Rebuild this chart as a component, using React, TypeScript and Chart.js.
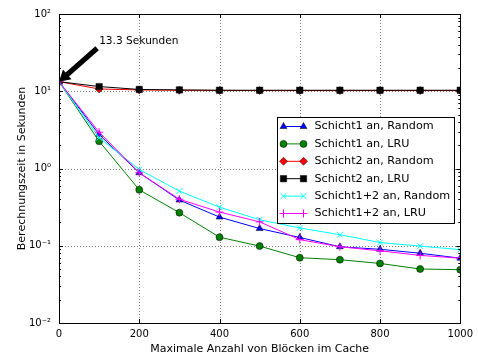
import React, { useEffect, useRef } from 'react';
import { Chart, registerables } from 'chart.js';
import { drawPoint } from 'chart.js/helpers';

Chart.register(...registerables);

// ---- data ----
const blockCounts = [0, 100, 200, 300, 400, 500, 600, 700, 800, 900, 1000];
const schicht1Random = [13.3, 2.75, 0.88, 0.39, 0.235, 0.167, 0.128, 0.097, 0.09, 0.08, 0.069];
const schicht1LRU = [13.3, 2.25, 0.53, 0.268, 0.129, 0.099, 0.07, 0.066, 0.059, 0.05, 0.049];
const schicht2Random = [13.3, 10.7, 10.4, 10.3, 10.25, 10.2, 10.2, 10.2, 10.2, 10.2, 10.2];
const schicht2LRU = [13.3, 11.5, 10.55, 10.4, 10.3, 10.3, 10.3, 10.3, 10.3, 10.3, 10.3];
const schicht12Random = [13.3, 2.5, 0.97, 0.51, 0.316, 0.217, 0.17, 0.139, 0.11, 0.099, 0.089];
const schicht12LRU = [13.3, 2.95, 0.88, 0.4, 0.273, 0.204, 0.12, 0.097, 0.086, 0.075, 0.069];

const seriesLabels = [
  'Schicht1 an, Random',
  'Schicht1 an, LRU',
  'Schicht2 an, Random',
  'Schicht2 an, LRU',
  'Schicht1+2 an, Random',
  'Schicht1+2 an, LRU',
];
const seriesValues = [schicht1Random, schicht1LRU, schicht2Random, schicht2LRU, schicht12Random, schicht12LRU];

const yTickValues = [0.01, 0.1, 1, 10, 100];
const yTickLabels = ['10⁻²', '10⁻¹', '10⁰', '10¹', '10²'];
const xTickStep = 200;
const xMin = 0;
const xMax = 1000;

const xTitle = 'Maximale Anzahl von Blöcken im Cache';
const yTitle = 'Berechnungszeit in Sekunden';

const annotationText = '13.3 Sekunden';
const annotationTarget = [0, 13.3];
const annotationTail = [95, 36];
const annotationTextPos = [100, 45];

// ---- styles ----
const seriesColors = ['#0000ff', '#008000', '#ff0000', '#000000', '#00ffff', '#ff00ff'];
const seriesMarkers = ['triangle', 'circle', 'rectRot', 'rect', 'crossRot', 'cross'];
const seriesRadius = [4, 3.5, 4, 4.5, 4, 4];
const FONT = "'DejaVu Sans', sans-serif";

function isCross(style: string) {
  return style === 'cross' || style === 'crossRot';
}

const framePlugin = {
  id: 'frameGrid',
  beforeDatasetsDraw(chart: any) {
    const { ctx, chartArea: a, scales } = chart;
    const xs = scales.x;
    const ys = scales.y;
    ctx.save();
    ctx.strokeStyle = 'rgba(0,0,0,0.5)';
    ctx.lineWidth = 1;
    ctx.setLineDash([1, 2]);
    for (let v = xMin + xTickStep; v < xMax; v += xTickStep) {
      const px = Math.round(xs.getPixelForValue(v)) + 0.5;
      ctx.beginPath();
      ctx.moveTo(px, a.top);
      ctx.lineTo(px, a.bottom);
      ctx.stroke();
    }
    yTickValues.slice(1, -1).forEach((v) => {
      const py = Math.round(ys.getPixelForValue(v)) + 0.5;
      ctx.beginPath();
      ctx.moveTo(a.left, py);
      ctx.lineTo(a.right, py);
      ctx.stroke();
    });
    ctx.restore();
  },
  afterDatasetsDraw(chart: any) {
    const { ctx, chartArea: a, scales } = chart;
    const xs = scales.x;
    const ys = scales.y;
    ctx.save();
    ctx.strokeStyle = '#000';
    ctx.lineWidth = 1;
    ctx.setLineDash([]);
    for (let v = xMin; v <= xMax; v += xTickStep) {
      const px = Math.round(xs.getPixelForValue(v)) + 0.5;
      ctx.beginPath();
      ctx.moveTo(px, a.bottom);
      ctx.lineTo(px, a.bottom - 4);
      ctx.moveTo(px, a.top);
      ctx.lineTo(px, a.top + 4);
      ctx.stroke();
    }
    for (let e = -2; e <= 2; e++) {
      for (let k = 1; k <= 9; k++) {
        const v = k * Math.pow(10, e);
        if (v > 100.0001) continue;
        const len = k === 1 ? 4 : 2;
        const py = Math.round(ys.getPixelForValue(v)) + 0.5;
        ctx.beginPath();
        ctx.moveTo(a.left, py);
        ctx.lineTo(a.left + len, py);
        ctx.moveTo(a.right, py);
        ctx.lineTo(a.right - len, py);
        ctx.stroke();
      }
    }
    ctx.strokeRect(Math.round(a.left) + 0.5, Math.round(a.top) + 0.5, Math.round(a.right - a.left), Math.round(a.bottom - a.top));
    ctx.restore();
  },
};

const annotationPlugin = {
  id: 'arrowNote',
  afterDraw(chart: any) {
    const { ctx, scales } = chart;
    const xs = scales.x;
    const ys = scales.y;
    const tx = xs.getPixelForValue(annotationTarget[0]);
    const ty = ys.getPixelForValue(annotationTarget[1]);
    const sx = xs.getPixelForValue(annotationTail[0]);
    const sy = ys.getPixelForValue(annotationTail[1]);
    const ang = Math.atan2(ty - sy, tx - sx);
    const len = Math.hypot(tx - sx, ty - sy);
    const shaftW = 2.6;
    const headW = 6.5;
    const headL = 11;
    ctx.save();
    ctx.translate(sx, sy);
    ctx.rotate(ang);
    ctx.fillStyle = '#000';
    ctx.beginPath();
    ctx.moveTo(0, -shaftW);
    ctx.lineTo(len - headL, -shaftW);
    ctx.lineTo(len - headL, -headW);
    ctx.lineTo(len, 0);
    ctx.lineTo(len - headL, headW);
    ctx.lineTo(len - headL, shaftW);
    ctx.lineTo(0, shaftW);
    ctx.closePath();
    ctx.fill();
    ctx.restore();

    ctx.save();
    ctx.fillStyle = '#000';
    ctx.font = `10.6px ${FONT}`;
    ctx.textAlign = 'left';
    ctx.textBaseline = 'middle';
    ctx.fillText(annotationText, xs.getPixelForValue(annotationTextPos[0]), ys.getPixelForValue(annotationTextPos[1]));
    ctx.restore();
  },
};

const legendPlugin = {
  id: 'boxLegend',
  afterDraw(chart: any) {
    const { ctx, chartArea: a } = chart;
    const w = 177;
    const h = 106;
    const bx = Math.round(a.right - 183) + 0.5;
    const by = Math.round(a.top + 103) + 0.5;
    ctx.save();
    ctx.fillStyle = '#fff';
    ctx.fillRect(bx, by, w, h);
    ctx.strokeStyle = '#000';
    ctx.lineWidth = 1;
    ctx.setLineDash([]);
    ctx.strokeRect(bx, by, w, h);
    const rowH = 17.4;
    chart.data.datasets.forEach((ds: any, i: number) => {
      const cy = by + 9 + i * rowH;
      const x1 = bx + 6;
      const x2 = bx + 26;
      const color = seriesColors[i];
      ctx.strokeStyle = color;
      ctx.lineWidth = 1;
      ctx.beginPath();
      ctx.moveTo(x1, cy);
      ctx.lineTo(x2, cy);
      ctx.stroke();
      const style = seriesMarkers[i];
      [x1, x2].forEach((px) => {
        ctx.fillStyle = color;
        ctx.strokeStyle = isCross(style) ? color : '#000';
        ctx.lineWidth = isCross(style) ? 1 : 0.5;
        drawPoint(ctx, { pointStyle: style, radius: seriesRadius[i], rotation: 0, borderWidth: isCross(style) ? 1 : 0.5 } as any, px, cy);
      });
      ctx.fillStyle = '#000';
      ctx.font = `11.2px ${FONT}`;
      ctx.textAlign = 'left';
      ctx.textBaseline = 'middle';
      ctx.fillText(ds.label, bx + 37, cy);
    });
    ctx.restore();
  },
};

export default function App() {
  const canvasRef = useRef<HTMLCanvasElement | null>(null);

  useEffect(() => {
    if (!canvasRef.current) return;
    const datasets = seriesLabels.map((label, i) => ({
      label,
      data: blockCounts.map((x, j) => ({ x, y: seriesValues[i][j] })),
      borderColor: seriesColors[i],
      backgroundColor: seriesColors[i],
      borderWidth: 1,
      pointStyle: seriesMarkers[i],
      pointRadius: seriesRadius[i],
      pointBackgroundColor: seriesColors[i],
      pointBorderColor: isCross(seriesMarkers[i]) ? seriesColors[i] : '#000',
      pointBorderWidth: isCross(seriesMarkers[i]) ? 1 : 0.5,
      tension: 0,
      clip: 0,
      order: seriesLabels.length - i,
    }));

    const chart = new Chart(canvasRef.current, {
      type: 'line',
      data: { datasets },
      plugins: [framePlugin, annotationPlugin, legendPlugin],
      options: {
        animation: false,
        responsive: true,
        maintainAspectRatio: false,
        layout: { padding: { top: 13, right: 16, left: 0, bottom: 0 } },
        plugins: { legend: { display: false }, tooltip: { enabled: false } },
        scales: {
          x: {
            type: 'linear',
            position: 'bottom',
            min: xMin,
            max: xMax,
            grid: { display: false, drawTicks: false },
            border: { display: false },
            ticks: {
              stepSize: xTickStep,
              padding: 5,
              maxRotation: 0,
              color: '#000',
              font: { family: FONT, size: 10 },
              callback: (v: any) => String(v),
            },
            title: { display: true, text: xTitle, color: '#000', font: { family: FONT, size: 11 }, padding: { top: 0, bottom: 3 } },
            afterFit: (s: any) => {
              s.height = 36;
            },
          },
          y: {
            type: 'logarithmic',
            min: yTickValues[0],
            max: yTickValues[yTickValues.length - 1],
            grid: { display: false, drawTicks: false },
            border: { display: false },
            afterBuildTicks: (s: any) => {
              s.ticks = yTickValues.map((v) => ({ value: v, major: true }));
            },
            ticks: {
              padding: 8,
              color: '#000',
              font: { family: FONT, size: 10 },
              callback: (v: any) => {
                const idx = yTickValues.findIndex((t) => Math.abs(t - Number(v)) < t * 1e-6);
                return idx >= 0 ? yTickLabels[idx] : '';
              },
            },
            title: { display: true, text: yTitle, color: '#000', font: { family: FONT, size: 11 }, padding: { top: 16, bottom: 0 } },
            afterFit: (s: any) => {
              s.width = 59;
            },
          },
        },
      } as any,
    });
    return () => chart.destroy();
  }, []);

  return (
    <div style={{ position: 'fixed', left: 0, top: 0, width: 478, height: 359, background: '#fff' }}>
      <canvas ref={canvasRef} />
    </div>
  );
}
